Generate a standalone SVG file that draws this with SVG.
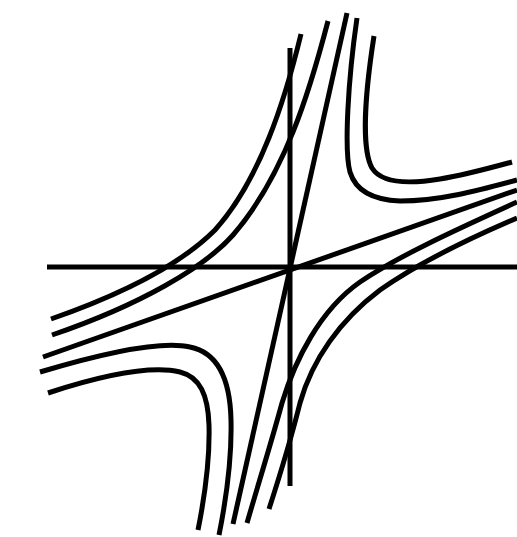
<svg xmlns="http://www.w3.org/2000/svg" width="517" height="537" viewBox="0 0 517 537">
<style>
.ln{fill:none;stroke:#000;stroke-width:5;stroke-linecap:butt;stroke-linejoin:round}
</style>
<rect width="517" height="537" fill="#fff"/>
<g id="axes" class="ln">
<line x1="47" y1="267" x2="517" y2="267"/>
<line x1="290" y1="48" x2="290" y2="486"/>
</g>
<g id="asymptotes" class="ln">
<line x1="347" y1="13" x2="233" y2="524"/>
<line x1="43" y1="357" x2="517" y2="190"/>
</g>
<g id="hyperbolas" class="ln">
<path id="tr-inner" d="M357,18 C348,80 344,150 350,172 C356,192 375,200 400,201 C440,201 480,190 517,180"/>
<path id="tr-outer" d="M374,36 C364,100 362,150 372,168 C382,184 410,184 440,179 C465,175 490,168 512,162"/>
<path id="tl-inner" d="M328,21 C310,90 285,175 233,235 C205,267 140,305 52,335"/>
<path id="tl-outer" d="M301,34 C285,100 260,180 215,230 C180,265 120,295 51,319"/>
<path id="bl-inner" d="M40,372 C100,354 160,340 190,347 C215,352 230,375 231,420 C232,460 226,500 219,535"/>
<path id="bl-outer" d="M48,393 C100,376 150,365 180,372 C200,377 208,395 209,425 C210,460 205,495 198,530"/>
<path id="br-inner" d="M517,202 C460,228 400,255 360,282 C320,310 295,360 282,403 C272,440 258,485 247,523"/>
<path id="br-outer" d="M517,218 C470,238 420,262 380,290 C340,320 312,360 300,403 C292,435 280,475 269,509"/>
</g>
</svg>
